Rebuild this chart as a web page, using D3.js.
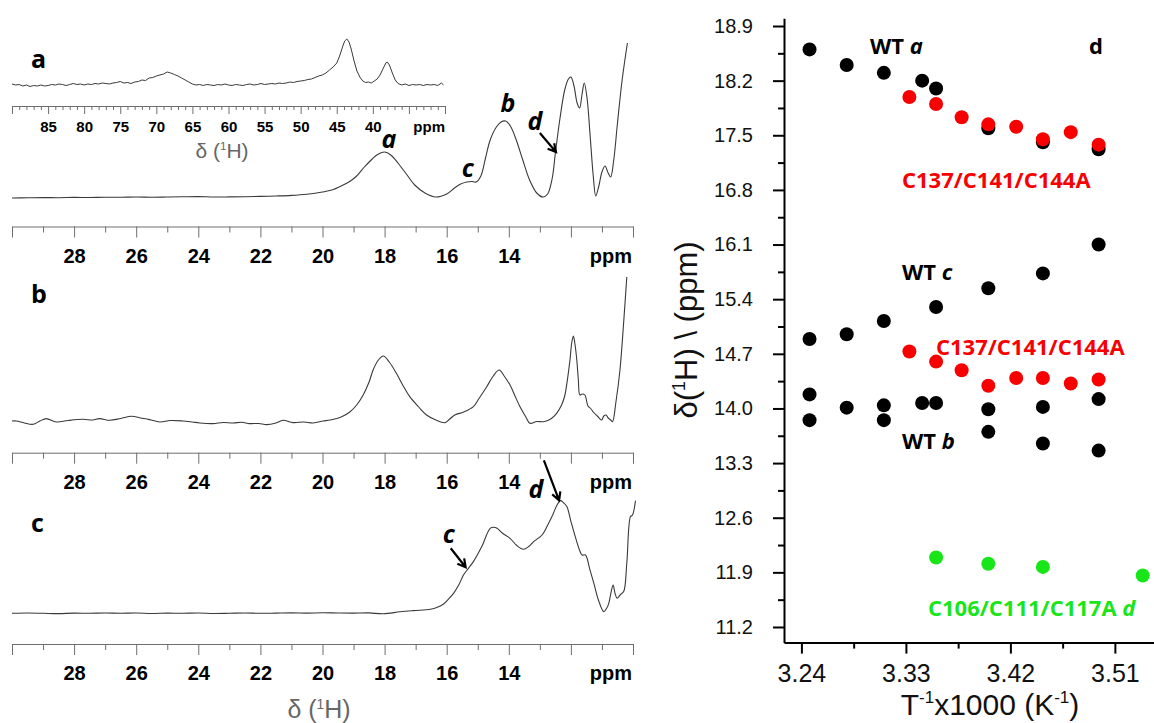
<!DOCTYPE html>
<html>
<head>
<meta charset="utf-8">
<script src="https://cdn.jsdelivr.net/npm/d3@7"></script>
<style>
  body { margin: 0; background: #fff; }
  svg { display: block; }
</style>
</head>
<body>
<svg id="fig" width="1154" height="723"></svg>
<script>
// ---------------- spectra (ppm, intensity above baseline) ----------------
// inset of panel a, wide window 90 – 30 ppm
const insetA = [[90,1],[89.5,0],[89,0.5],[88.5,-1],[88,0],[87.5,-1.5],[87,-0.5],[86.5,-1],[86,0],[85.5,-1],[85,-0.5],
  [84.5,0.5],[84,0],[83.5,1],[83,0.5],[82.5,-0.5],[82,0.5],[81.5,1.5],[81,0.5],[80.5,1],[80,0],[79.5,1],[79,0.5],
  [78.5,1.5],[78,1],[77.5,2],[77,1.5],[76.5,1],[76,2],[75.5,2.5],[75,3.5],[74.5,2],[74,2.5],[73.5,1.5],[73,3],
  [72.5,3.5],[72,5],[71.5,4.5],[71,7],[70.5,7.5],[70,9],[69.5,10],[69,11],[68.5,13],[68,12],[67.5,10.5],[67,9],
  [66.5,7],[66,5],[65.5,3],[65,1],[64.5,0],[64,0.5],[63.5,-0.5],[63,0.5],[62.5,0],[62,-0.5],[61.5,0.5],[61,0],
  [60.5,1],[60,0],[59.5,-0.5],[59,0.5],[58.5,0],[58,-0.5],[57.5,0.5],[57,1],[56.5,0],[56,0.5],[55.5,1.5],[55,0.5],
  [54.5,1],[54,1.5],[53.5,1],[53,2],[52.5,1.5],[52,2],[51.5,3],[51,2.5],[50.5,3.5],[50,4],[49.5,4.5],[49,5.5],
  [48.5,6],[48,7.5],[47.5,9],[47,10],[46.5,12],[46,15],[45.5,18],[45,22],[44.6,29],[44.2,38],[43.9,44],[43.6,46],
  [43.3,43],[43.0,36],[42.6,24],[42.2,14],[41.8,8],[41.4,4],[41.0,2.5],[40.6,3],[40.2,2],[39.8,4],[39.4,6],[39.0,10],
  [38.6,16],[38.2,22],[38.0,23],[37.7,20],[37.3,12],[36.9,5],[36.5,1.5],[36,0],[35.5,1],[35,-0.5],[34.5,0.5],[34,0],
  [33.5,0.5],[33,-0.5],[32.5,0.5],[32,0],[31.5,0.5],[31,-0.5],[30.5,2],[30.2,0]];

// panel a, 30 – 10 ppm
const spectrumA = [[30,0],[29.5,0.2],[29,0.4],[28.5,0.3],[28,0.6],[27.5,0.5],[27,0.8],[26.5,0.7],[26,1.0],[25.5,0.8],
  [25,1.0],[24.5,1.2],[24,1.4],[23.5,1.0],[23,1.1],[22.5,1.3],[22,1.6],[21.5,2.0],[21,2.6],[20.5,3.8],[20,6],[19.7,8],
  [19.4,12],[19.1,17],[18.9,22],[18.65,31],[18.4,39],[18.2,44],[18.0,46],[17.8,43],[17.57,35],[17.3,24],[17.03,13],
  [16.7,5],[16.35,1],[16.0,4],[15.75,10],[15.55,14],[15.35,16],[15.2,16.5],[15.05,16],[14.9,22],[14.75,40],[14.6,58],
  [14.4,71],[14.25,76],[14.1,77],[13.95,72],[13.76,58],[13.55,38],[13.33,18],[13.1,5],[12.9,1],[12.75,4],[12.6,20],
  [12.5,45],[12.35,80],[12.2,108],[12.08,119],[12.0,121],[11.9,112],[11.8,95],[11.72,90],[11.64,104],[11.57,115],
  [11.48,100],[11.38,62],[11.28,22],[11.2,2],[11.1,12],[11.0,26],[10.9,32],[10.8,25],[10.72,21],[10.62,38],
  [10.5,75],[10.35,118],[10.18,155]];

// panel b
const spectrumB = [[30,1],[29.86,1],[29.6,-1],[29.32,-2.3],[29.1,1],[28.9,3.4],[28.57,0],[28.2,1.5],[27.71,2.7],
  [27.4,2],[27.18,3.4],[26.85,1.7],[26.5,3.5],[26.15,5.7],[25.85,4],[25.57,2.4],[25.24,0],[24.9,1.5],[24.5,1],
  [24.2,0],[23.95,-1],[23.53,-1.6],[23.2,-0.5],[22.88,-1],[22.6,-0.3],[22.35,-1.6],[22.05,-1.5],[21.8,-2.6],
  [21.5,-1],[21.27,1.7],[20.95,-0.6],[20.6,0],[20.3,-1],[19.98,1],[19.76,2],[19.4,5],[19.12,10],[18.9,17],[18.69,27],
  [18.5,40],[18.37,52],[18.2,62],[18.04,66],[17.85,60],[17.62,48.7],[17.4,36],[17.19,25.3],[16.9,15],[16.65,7],
  [16.35,2],[16.06,-0.7],[15.9,3],[15.74,7],[15.45,10],[15.14,15.3],[14.95,24],[14.71,35.3],[14.5,46],[14.31,52],
  [14.15,46],[13.96,37],[13.8,26],[13.64,15.3],[13.45,5],[13.32,-1.3],[13.1,0.5],[12.89,0.3],[12.65,3],[12.46,8.7],
  [12.3,17],[12.2,26],[12.1,45],[12.03,62],[11.97,80],[11.92,86],[11.87,78],[11.81,62],[11.76,42],[11.71,27],
  [11.63,28],[11.55,27],[11.45,16],[11.35,13],[11.28,10],[11.15,6],[11.01,2],[10.94,6],[10.87,7],[10.8,4],
  [10.72,2],[10.66,0.3],[10.55,20],[10.42,52],[10.3,100],[10.2,145]];

// panel c
const spectrumC = [[30,0],[29.5,0.3],[29,0],[28.5,-0.3],[28,0.2],[27.5,0],[27,0.3],[26.5,0],[26,0.3],[25.5,-0.2],
  [25,0.2],[24.5,0],[24,0.3],[23.5,-0.2],[23,0],[22.5,0.3],[22,0],[21.5,0.2],[21,0.4],[20.5,0.2],[20,0.5],[19.5,0.3],
  [19,0.2],[18.5,0.4],[18.04,-0.5],[17.5,1.5],[17.07,2.7],[16.53,4],[16.3,6],[16.1,9.3],[15.95,14],[15.78,20],
  [15.6,29],[15.46,38.3],[15.3,45],[15.14,51.7],[14.87,66.7],[14.6,85],[14.48,86],[14.38,85],[14.2,80],[13.96,75],
  [13.75,68],[13.53,64],[13.35,67],[13.2,71.7],[12.93,78.3],[12.75,88],[12.61,96.7],[12.45,108],[12.34,112.7],
  [12.25,111],[12.13,106.7],[12.0,92],[11.86,76.7],[11.72,63],[11.64,58.3],[11.53,58.3],[11.4,45],[11.26,30],
  [11.1,12],[10.94,1.7],[10.85,5],[10.78,10],[10.7,22],[10.64,28.3],[10.58,20],[10.51,15],[10.4,19],[10.3,21.7],
  [10.2,50],[10.08,96.7],[10.02,98],[9.92,112.7]];

const ppmMajor = [30, 28, 26, 24, 22, 20, 18, 16, 14, 12, 10];
const ppmLabels = [28, 26, 24, 22, 20, 18, 16, 14];
const insetMajor = [90, 85, 80, 75, 70, 65, 60, 55, 50, 45, 40, 35, 30];
const insetLabels = [85, 80, 75, 70, 65, 60, 55, 50, 45, 40];

// ---------------- chemical shift vs 1/T ----------------
const wtX   = [3.247, 3.279, 3.311, 3.344, 3.356, 3.401, 3.448, 3.496];
const wtA   = [18.60, 18.40, 18.30, 18.20, 18.10, 17.59, 17.41, 17.32];
const wtC   = [14.89, 14.95, 15.12, null, 15.30, 15.54, 15.73, 16.10];
const wtB   = [14.18, 14.01, 14.04, 14.07, 14.07, 13.99, 14.02, 14.12];
const wtBlo = [13.85, null, 13.85, null, null, 13.70, 13.55, 13.46];
const mutX  = [3.333, 3.356, 3.378, 3.401, 3.425, 3.448, 3.472, 3.496];
const mutA  = [17.99, 17.90, 17.73, 17.64, 17.61, 17.45, 17.54, 17.38];
const mutC  = [14.73, 14.60, 14.49, 14.29, 14.39, 14.39, 14.32, 14.37];
const dX    = [3.356, 3.401, 3.448, 3.534];
const dVals = [12.09, 12.01, 11.97, 11.86];
const yTicks = [11.2, 11.9, 12.6, 13.3, 14.0, 14.7, 15.4, 16.1, 16.8, 17.5, 18.2, 18.9];
const xTicks = [3.24, 3.33, 3.42, 3.51];

const RED = "#f80000", GREEN = "#19e619", TRACE = "#3a3a3a", AXG = "#6e6e6e";
const svg = d3.select("#fig");

// ---------- spectra ----------
const specX = d3.scaleLinear().domain([30, 10]).range([12, 633]);
const insetX = d3.scaleLinear().domain([90, 30]).range([12, 445]);

function ppmAxis(y, xs, major, minor, labels, size, pad, fontSize, end) {
  const g = svg.append("g").attr("transform", `translate(0,${y})`);
  g.call(d3.axisBottom(xs).tickValues(major).tickSize(size).tickSizeOuter(0).tickPadding(pad)
    .tickFormat(d => labels.includes(d) ? d : ""));
  g.append("g").call(d3.axisBottom(xs).tickValues(minor).tickSize(Math.round(size / 2)).tickFormat(""))
    .select(".domain").remove();
  g.selectAll("path.domain, line").attr("stroke", AXG).attr("stroke-width", 1);
  g.selectAll("text").attr("fill", "#000").attr("font-family", "Liberation Sans, Arial, sans-serif")
    .attr("font-weight", "bold").attr("font-size", fontSize);
  g.append("text").attr("x", end).attr("y", size + pad + fontSize * 0.71)
    .attr("text-anchor", "end").attr("fill", "#000").attr("font-family", "Liberation Sans, Arial, sans-serif")
    .attr("font-weight", "bold").attr("font-size", fontSize).text("ppm");
  return g;
}

const ppmMinor = d3.range(29, 10, -2);
const insetMinor = d3.range(89, 30, -1).filter(v => v % 5 !== 0);

const panels = [
  { name: "a", data: spectrumA, base: 198, axisY: 226.5, letterY: 68 },
  { name: "b", data: spectrumB, base: 422, axisY: 452.7, letterY: 303 },
  { name: "c", data: spectrumC, base: 613.3, axisY: 644, letterY: 532 }
];

panels.forEach(p => {
  p.ys = d3.scaleLinear().domain([0, 100]).range([p.base, p.base - 100]);
  svg.append("path").datum(p.data)
    .attr("d", d3.line().x(d => specX(d[0])).y(d => p.ys(d[1])).curve(d3.curveCatmullRom.alpha(0.5)))
    .attr("fill", "none").attr("stroke", TRACE).attr("stroke-width", 1.1);
  ppmAxis(p.axisY, specX, ppmMajor, ppmMinor, ppmLabels, 11, 11, 20, 632);
  svg.append("text").attr("x", 31).attr("y", p.letterY)
    .attr("font-family", "Open Sans, sans-serif").attr("font-weight", "bold").attr("font-size", 25)
    .text(p.name);
});

// inset of panel a
const insetY = d3.scaleLinear().domain([0, 100]).range([85, -15]);
svg.append("path").datum(insetA)
  .attr("d", d3.line().x(d => insetX(d[0])).y(d => insetY(d[1])))
  .attr("fill", "none").attr("stroke", TRACE).attr("stroke-width", 1);
ppmAxis(106, insetX, insetMajor, insetMinor, insetLabels, 8, 7, 15, 445);

function deltaH(x, y, size, color) {
  const t = svg.append("text").attr("x", x).attr("y", y).attr("text-anchor", "middle")
    .attr("font-family", "Liberation Sans, Arial, sans-serif").attr("font-size", size).attr("fill", color);
  t.append("tspan").text("δ (");
  t.append("tspan").attr("font-size", size * 0.55).attr("dy", -size * 0.38).text("1");
  t.append("tspan").attr("dy", size * 0.38).text("H)");
}
deltaH(222, 158, 21, "#666");
deltaH(319, 718, 25, "#666");

// peak labels and arrows, placed in ppm / intensity space of each panel
const fontLab = "Open Sans, sans-serif";
function peakLabel(p, ppm, inten, txt) {
  svg.append("text").attr("x", specX(ppm)).attr("y", p.ys(inten)).attr("text-anchor", "middle")
    .attr("font-family", fontLab).attr("font-weight", "bold").attr("font-style", "italic")
    .attr("font-size", 25).text(txt);
}
function arrow(p, ppm1, i1, ppm2, i2) {
  const x1 = specX(ppm1), y1 = p.ys(i1), x2 = specX(ppm2), y2 = p.ys(i2);
  const a = Math.atan2(y2 - y1, x2 - x1), L = 9, w = 0.5;
  svg.append("path")
    .attr("d", `M${x1},${y1}L${x2},${y2}M${x2 - L * Math.cos(a - w)},${y2 - L * Math.sin(a - w)}L${x2},${y2}L${x2 - L * Math.cos(a + w)},${y2 - L * Math.sin(a + w)}`)
    .attr("fill", "none").attr("stroke", "#000").attr("stroke-width", 2.2);
}
const [pa, pb, pc] = panels;
peakLabel(pa, 17.86, 50, "a");
peakLabel(pa, 15.32, 21, "c");
peakLabel(pa, 14.03, 86, "b");
peakLabel(pa, 13.16, 68, "d");
arrow(pa, 13.0, 65, 12.48, 46);
peakLabel(pc, 13.13, 115, "d");
arrow(pc, 12.87, 153, 12.38, 113);
peakLabel(pc, 15.93, 70, "c");
arrow(pc, 15.87, 65, 15.39, 46);

// ---------- scatter: delta vs 1000/T ----------
const sx = d3.scaleLinear().domain([3.225, 3.5437]).range([784, 1154]);
const sy = d3.scaleLinear().domain([11.0, 19.0]).range([642.6, 18.2]);

const yMinor = yTicks.slice(0, -1).map((v, i) => +((v + yTicks[i + 1]) / 2).toFixed(2));
const xMinor = xTicks.slice(0, -1).map((v, i) => +((v + xTicks[i + 1]) / 2).toFixed(3));

const gy = svg.append("g").attr("transform", "translate(784,0)");
gy.call(d3.axisLeft(sy).tickValues(yTicks).tickSize(11).tickSizeOuter(0).tickPadding(20).tickFormat(d3.format(".1f")));
gy.append("g").call(d3.axisLeft(sy).tickValues(yMinor).tickSize(6).tickFormat("")).select(".domain").remove();
const gx = svg.append("g").attr("transform", "translate(0,642.6)");
gx.call(d3.axisBottom(sx).tickValues(xTicks).tickSize(11).tickSizeOuter(0).tickPadding(11).tickFormat(d3.format(".2f")));
gx.append("g").call(d3.axisBottom(sx).tickValues(xMinor).tickSize(6).tickFormat("")).select(".domain").remove();
[gx, gy].forEach(g => {
  g.selectAll("path.domain, line").attr("stroke", "#000").attr("stroke-width", 2);
  g.selectAll("text").attr("fill", "#111").attr("font-family", "Liberation Sans, Arial, sans-serif");
});
gy.selectAll("text").attr("font-size", 20);
gx.selectAll("text").attr("font-size", 25);

// axis titles
const xt = svg.append("text").attr("x", 990).attr("y", 715).attr("text-anchor", "middle")
  .attr("font-family", "Liberation Sans, Arial, sans-serif").attr("font-size", 30).attr("fill", "#111");
xt.append("tspan").text("T");
xt.append("tspan").attr("font-size", 17).attr("dy", -12).text("-1");
xt.append("tspan").attr("dy", 12).text("x1000 (K");
xt.append("tspan").attr("font-size", 17).attr("dy", -12).text("-1");
xt.append("tspan").attr("dy", 12).text(")");

const yt = svg.append("text").attr("transform", "translate(697,330) rotate(-90)").attr("text-anchor", "middle")
  .attr("font-family", "Liberation Sans, Arial, sans-serif").attr("font-size", 31).attr("fill", "#111");
yt.append("tspan").text("δ(");
yt.append("tspan").attr("font-size", 18).attr("dy", -12).text("1");
yt.append("tspan").attr("dy", 12).text("H) \\ (ppm)");

// points
function dots(xs, ys, color) {
  const pts = xs.map((x, i) => [x, ys[i]]).filter(d => d[1] != null);
  svg.append("g").selectAll("circle").data(pts).join("circle")
    .attr("cx", d => sx(d[0])).attr("cy", d => sy(d[1])).attr("r", 7).attr("fill", color);
}
dots(wtX, wtA, "#000");
dots(wtX, wtC, "#000");
dots(wtX, wtB, "#000");
dots(wtX, wtBlo, "#000");
dots(mutX, mutA, RED);
dots(mutX, mutC, RED);
dots(dX, dVals, GREEN);

// series labels
function seriesLabel(x, y, parts, color) {
  const t = svg.append("text").attr("x", x).attr("y", y).attr("font-family", fontLab)
    .attr("font-weight", "bold").attr("font-size", 22).attr("fill", color);
  parts.forEach(([s, it]) => t.append("tspan").attr("font-style", it ? "italic" : "normal").text(s));
}
seriesLabel(870, 54, [["WT ", false], ["a", true]], "#000");
seriesLabel(1089, 54, [["d", false]], "#000");
seriesLabel(902, 188, [["C137/C141/C144A", false]], RED);
seriesLabel(902, 280, [["WT ", false], ["c", true]], "#000");
seriesLabel(936, 355, [["C137/C141/C144A", false]], RED);
seriesLabel(902, 449, [["WT ", false], ["b", true]], "#000");
seriesLabel(928, 616, [["C106/C111/C117A ", false], ["d", true]], GREEN);
</script>
</body>
</html>
